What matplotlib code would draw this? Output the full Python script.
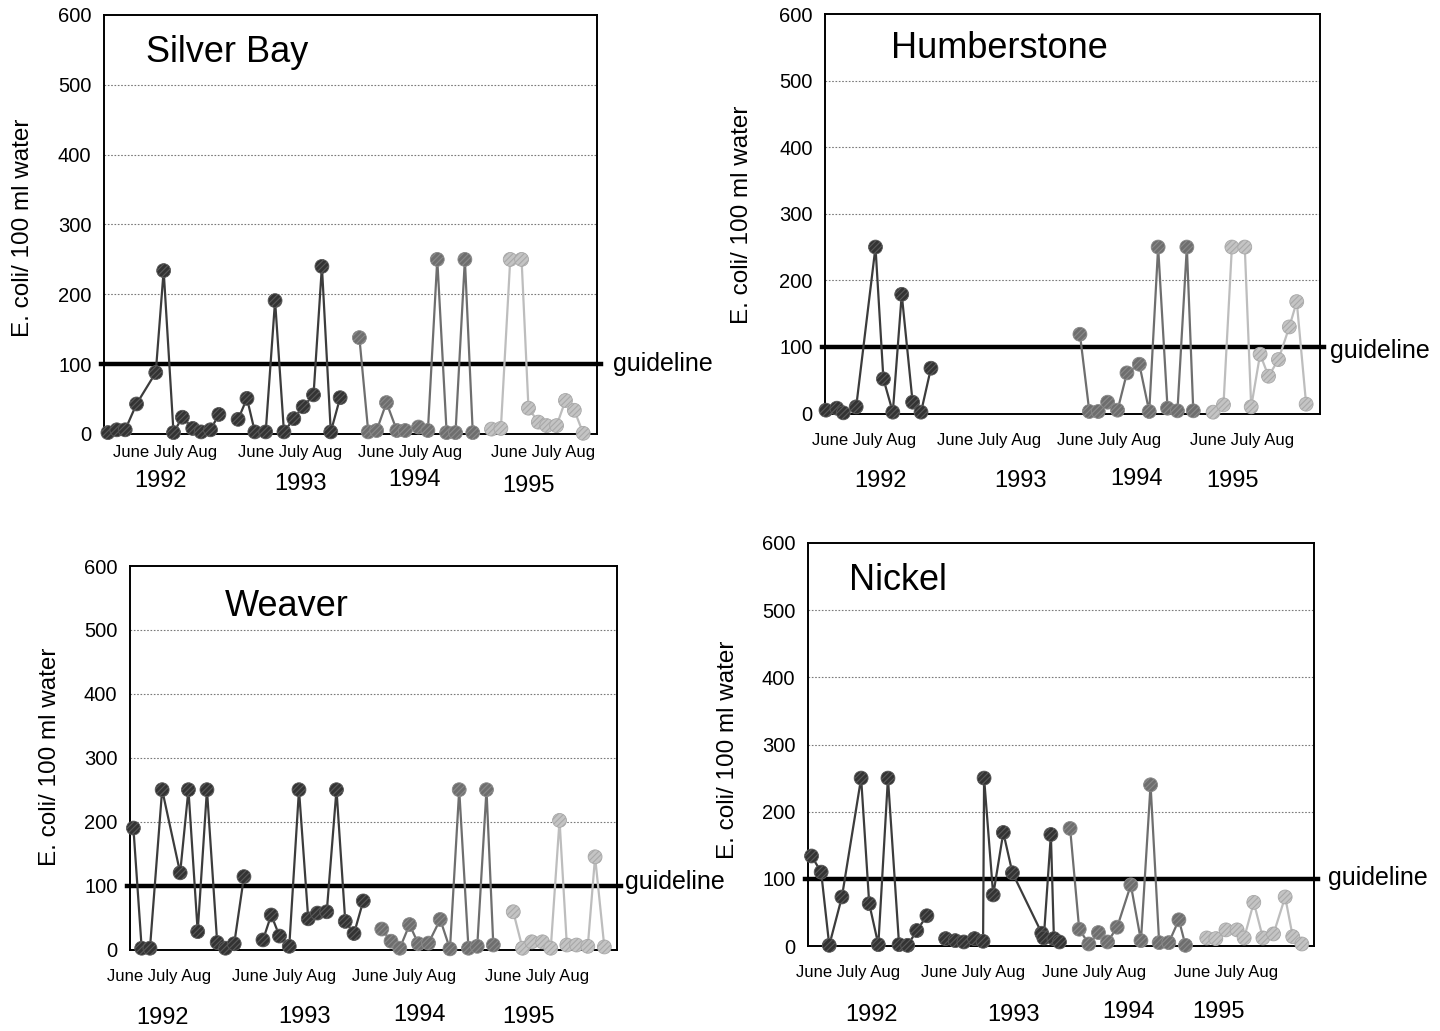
import matplotlib
matplotlib.use("Agg")
import matplotlib.pyplot as plt

plt.rcParams['font.family'] = ['Liberation Sans', 'DejaVu Sans']
plt.rcParams['hatch.linewidth'] = 0.8

# Sampling positions along each site's 1992-1995 timeline (0-100 scale)
# and E. coli counts per 100 ml water.
silver_x92 = [0.8, 2.6, 4.3, 6.6, 10.5, 12.1, 14.1, 15.9, 18.0, 19.7, 21.6, 23.3]
silver_y92 = [2, 6, 6, 43, 88, 234, 2, 24, 8, 3, 6, 28]
silver_x93 = [27.2, 29.0, 30.6, 32.8, 34.7, 36.5, 38.5, 40.4, 42.5, 44.2, 46.0, 47.9]
silver_y93 = [21, 51, 3, 3, 191, 3, 22, 39, 56, 240, 3, 52]
silver_x94 = [51.8, 53.6, 55.3, 57.3, 59.4, 61.1, 63.8, 65.7, 67.6, 69.5, 71.3, 73.2, 74.8]
silver_y94 = [138, 3, 5, 45, 5, 5, 10, 5, 250, 2, 2, 250, 2]
silver_x95 = [78.6, 80.5, 82.4, 84.7, 86.1, 88.1, 89.8, 91.8, 93.6, 95.4, 97.2]
silver_y95 = [7, 8, 250, 250, 37, 17, 12, 12, 48, 34, 1]

humber_x92 = [0.2, 2.4, 3.7, 6.3, 10.2, 11.8, 13.7, 15.5, 17.7, 19.4, 21.4]
humber_y92 = [5, 8, 1, 10, 250, 52, 2, 179, 17, 2, 68]
humber_x93 = []
humber_y93 = []
humber_x94 = [51.5, 53.4, 55.2, 57.1, 59.1, 61.0, 63.5, 65.5, 67.3, 69.2, 71.2, 73.1, 74.4]
humber_y94 = [119, 3, 3, 17, 5, 61, 74, 3, 250, 8, 4, 250, 4]
humber_x95 = [78.4, 80.5, 82.2, 84.8, 86.1, 87.9, 89.6, 91.6, 93.8, 95.3, 97.2]
humber_y95 = [2, 13, 250, 250, 10, 89, 56, 81, 130, 168, 14]

weaver_x92 = [0.7, 2.4, 4.1, 6.6, 10.3, 12.0, 13.9, 15.8, 17.9, 19.6, 21.4, 23.4]
weaver_y92 = [190, 2, 2, 250, 120, 250, 28, 250, 11, 2, 9, 114]
weaver_x93 = [27.3, 29.0, 30.7, 32.7, 34.7, 36.6, 38.5, 40.4, 42.4, 44.2, 46.0, 47.9]
weaver_y93 = [15, 54, 21, 5, 250, 48, 57, 59, 250, 44, 25, 76]
weaver_x94 = [51.7, 53.6, 55.4, 57.4, 59.2, 61.3, 63.7, 65.7, 67.6, 69.5, 71.3, 73.2, 74.6]
weaver_y94 = [32, 13, 2, 39, 9, 10, 47, 1, 250, 2, 5, 250, 7]
weaver_x95 = [78.7, 80.6, 82.5, 84.7, 86.4, 88.2, 89.7, 91.7, 94.0, 95.5, 97.4]
weaver_y95 = [59, 2, 12, 12, 2, 202, 7, 7, 5, 145, 4]

nickel_x92 = [0.7, 2.6, 4.2, 6.7, 10.5, 12.1, 13.9, 15.8, 18.0, 19.7, 21.5, 23.5]
nickel_y92 = [134, 110, 1, 73, 250, 63, 2, 250, 2, 1, 23, 45]
nickel_x93 = [27.2, 29.1, 30.8, 32.9, 34.6, 34.8, 36.6, 38.6, 40.4, 46.2, 46.6, 48.0, 48.6, 49.7]
nickel_y93 = [11, 8, 6, 11, 7, 250, 76, 169, 109, 19, 12, 166, 11, 6]
nickel_x94 = [51.8, 53.6, 55.5, 57.4, 59.2, 61.1, 63.8, 65.8, 67.7, 69.4, 71.3, 73.3, 74.6]
nickel_y94 = [175, 25, 3, 20, 6, 28, 91, 8, 240, 5, 5, 39, 1]
nickel_x95 = [78.8, 80.6, 82.6, 84.8, 86.2, 88.1, 89.9, 92.0, 94.3, 95.8, 97.6]
nickel_y95 = [12, 11, 24, 24, 12, 65, 12, 18, 73, 14, 3]

years = ['1992', '1993', '1994', '1995']
month_label = 'June July Aug'
guideline = 100
y_ticks = [0, 100, 200, 300, 400, 500, 600]
ylabel = 'E. coli/ 100 ml water'

# marker face, hatch/edge and line colour per season
season_style = {
    '1992': ('#333333', '#5a5a5a', '#3c3c3c'),
    '1993': ('#333333', '#5a5a5a', '#3c3c3c'),
    '1994': ('#6e6e6e', '#8a8a8a', '#6e6e6e'),
    '1995': ('#c4c4c4', '#a8a8a8', '#bdbdbd'),
}

W, H = 1440, 1031
fig = plt.figure(figsize=(W / 100, H / 100), dpi=100)


def fx(px):
    return px / W


def fy(py):
    return 1 - py / H


sites = [
    dict(name='Silver Bay', box=(104, 15, 597, 434),
         series=[(silver_x92, silver_y92), (silver_x93, silver_y93),
                 (silver_x94, silver_y94), (silver_x95, silver_y95)],
         title_at=(146, 53), ylab_at=(23, 228), guide_at=(613, 364),
         month_y=453, month_cx=[165, 290, 410, 543],
         year_at=[(161, 481), (300, 484), (415, 480), (529, 486)]),
    dict(name='Humberstone', box=(825, 14, 1320, 413.5),
         series=[(humber_x92, humber_y92), (humber_x93, humber_y93),
                 (humber_x94, humber_y94), (humber_x95, humber_y95)],
         title_at=(891, 48), ylab_at=(742, 215), guide_at=(1330, 351),
         month_y=441, month_cx=[864, 989, 1109, 1242],
         year_at=[(880, 481), (1021, 481), (1137, 479), (1233, 481)]),
    dict(name='Weaver', box=(130, 566, 617, 949.5),
         series=[(weaver_x92, weaver_y92), (weaver_x93, weaver_y93),
                 (weaver_x94, weaver_y94), (weaver_x95, weaver_y95)],
         title_at=(225, 607), ylab_at=(50, 757), guide_at=(625, 882),
         month_y=977, month_cx=[159, 284, 404, 537],
         year_at=[(163, 1018), (304, 1017), (419, 1015), (528, 1017)]),
    dict(name='Nickel', box=(808, 543, 1314, 946),
         series=[(nickel_x92, nickel_y92), (nickel_x93, nickel_y93),
                 (nickel_x94, nickel_y94), (nickel_x95, nickel_y95)],
         title_at=(849, 581), ylab_at=(728, 750), guide_at=(1328, 878),
         month_y=972, month_cx=[848, 973, 1094, 1226],
         year_at=[(872, 1015), (1013, 1015), (1128, 1012), (1218, 1012)]),
]

for site in sites:
    left, top, right, bottom = site['box']
    ax = fig.add_axes([fx(left), fy(bottom), (right - left) / W, (bottom - top) / H])
    ax.set_xlim(0, 100)
    ax.set_ylim(0, 600)
    ax.set_yticks(y_ticks)
    ax.set_yticklabels([str(t) for t in y_ticks], fontsize=14.5)
    ax.set_xticks([])
    ax.tick_params(axis='y', length=0, pad=9)
    for sp in ax.spines.values():
        sp.set_linewidth(1.4)
        sp.set_color('black')

    # dotted reference lines
    for t in y_ticks[2:-1]:
        ax.axhline(t, color='#7a7a7a', lw=0.8, ls=(0, (1.5, 1.5)), zorder=1)

    # guideline (100 E. coli / 100 ml)
    ax.plot([-0.006, 1.008], [guideline, guideline], color='black', lw=3.2,
            transform=ax.get_yaxis_transform(), clip_on=False, zorder=2)

    for yr, (xs, ys) in zip(years, site['series']):
        if not xs:
            continue
        face, hatch_col, line_col = season_style[yr]
        ax.plot(xs, ys, color=line_col, lw=1.6, zorder=3, clip_on=False)
        ax.scatter(xs, ys, s=100, facecolor=face, edgecolor=hatch_col,
                   hatch='//////', linewidth=0.6, zorder=4, clip_on=False)

    tx, ty = site['title_at']
    fig.text(fx(tx), fy(ty), site['name'], fontsize=26, ha='left', va='center')
    lx, ly = site['ylab_at']
    fig.text(fx(lx), fy(ly), ylabel, fontsize=17.5, rotation=90,
             ha='center', va='center')
    gx, gy = site['guide_at']
    fig.text(fx(gx), fy(gy), 'guideline', fontsize=18, ha='left', va='center')
    for cx in site['month_cx']:
        fig.text(fx(cx), fy(site['month_y']), month_label, fontsize=12,
                 ha='center', va='center')
    for yr, (yx, yy) in zip(years, site['year_at']):
        fig.text(fx(yx), fy(yy), yr, fontsize=17, ha='center', va='center')

fig.savefig('out.png', dpi=100, facecolor='white')
